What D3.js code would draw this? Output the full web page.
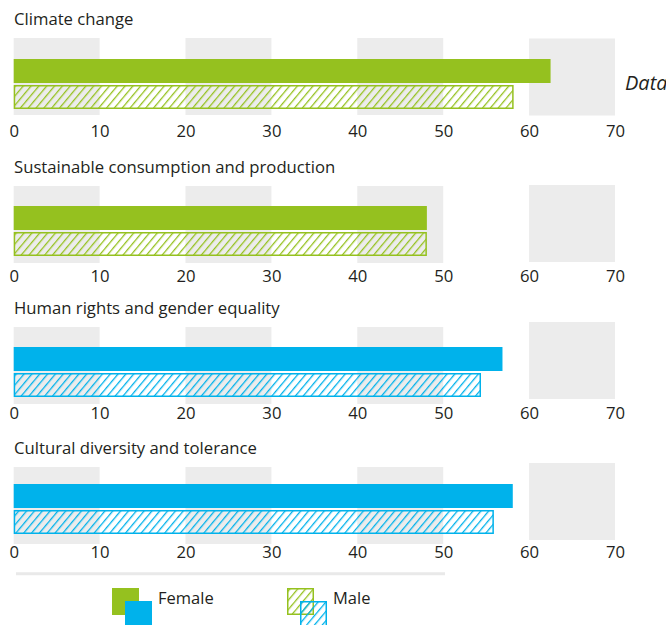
<!DOCTYPE html>
<html>
<head>
<meta charset="utf-8">
<script src="https://cdn.jsdelivr.net/npm/d3@7"></script>
<style>
  body { margin: 0; background: #fff; }
  svg { display: block; font-family: "Open Sans", sans-serif; }
</style>
</head>
<body>
<script>
// values (percent)
const topics = ['Climate change', 'Sustainable consumption and production', 'Human rights and gender equality', 'Cultural diversity and tolerance']
const themes = ['environment', 'environment', 'society', 'society']
const female = [62.5, 48.1, 56.9, 58.1]
const male = [58.2, 48.1, 54.4, 55.9]
const tickValues = [0, 10, 20, 30, 40, 50, 60, 70]
const bands = [[0, 10], [20, 30], [40, 50], [60, 70]]
const legendLabels = ['Female', 'Male']

const w = 666
const h = 625
const themeColor = { environment: '#95c11f', society: '#00b2eb' }
const ink = '#231f20'

// per panel layout (band top, bar offset, tick baseline offset, shift of last band)
const panelTop = [38, 186, 327, 467]
const barOff = [21, 20, 20, 17]
const tickOff = [99, 96, 92, 91]
const lastShift = [0.5, -1, -5, -4]
const bandH = 77
const barH = 24

const svg = d3.select('body')
  .append('svg')
  .attr('width', w)
  .attr('height', h)

const x = d3.scaleLinear()
  .domain([0, 70])
  .range([13.7, 615])

// hatch patterns
const defs = svg.append('defs')
Object.keys(themeColor).forEach(k => {
  const p = defs.append('pattern')
    .attr('id', 'hatch-' + k)
    .attr('patternUnits', 'userSpaceOnUse')
    .attr('width', 6)
    .attr('height', 6)
    .attr('patternTransform', 'rotate(40)')
  p.append('line')
    .attr('x1', 0).attr('y1', 0)
    .attr('x2', 0).attr('y2', 6)
    .attr('stroke', themeColor[k])
    .attr('stroke-width', 2.6)
})

topics.forEach((t, i) => {
  const g = svg.append('g').attr('transform', `translate(0, ${panelTop[i]})`)
  const col = themeColor[themes[i]]

  g.selectAll('rect.band')
    .data(bands)
    .enter()
    .append('rect')
    .attr('class', 'band')
    .attr('x', d => x(d[0]))
    .attr('width', d => x(d[1]) - x(d[0]))
    .attr('y', (d, j) => j === bands.length - 1 ? lastShift[i] : 0)
    .attr('height', bandH)
    .attr('fill', '#ececec')

  g.append('text')
    .attr('x', 14)
    .attr('y', -13.5)
    .attr('font-size', 16.7)
    .attr('fill', ink)
    .text(t)

  g.append('rect')
    .attr('x', x(0))
    .attr('y', barOff[i])
    .attr('width', x(female[i]) - x(0))
    .attr('height', barH)
    .attr('fill', col)

  g.append('rect')
    .attr('x', x(0) + 0.75)
    .attr('y', barOff[i] + barH + 2.75)
    .attr('width', x(male[i]) - x(0) - 1.5)
    .attr('height', barH - 1.5)
    .attr('fill', `url(#hatch-${themes[i]})`)
    .attr('stroke', col)
    .attr('stroke-width', 1.5)

  const axis = d3.axisBottom(x)
    .tickValues(tickValues)
    .tickSize(0)
    .tickPadding(0)
  const ax = g.append('g')
    .attr('transform', `translate(0, ${tickOff[i] - 12})`)
    .call(axis)
  ax.select('.domain').remove()
  ax.selectAll('text')
    .attr('font-size', 16.7)
    .attr('font-family', '"Open Sans", sans-serif')
    .attr('fill', ink)
    .attr('dy', 12)
})

svg.append('text')
  .attr('x', 625)
  .attr('y', 90)
  .attr('font-size', 20)
  .attr('font-style', 'italic')
  .attr('fill', ink)
  .text('Data')

svg.append('line')
  .attr('x1', 16).attr('x2', 445)
  .attr('y1', 573.8).attr('y2', 573.8)
  .attr('stroke', '#e9e9e9')
  .attr('stroke-width', 3)

// legend
const legX = [112, 287]
const lg = svg.append('g')
legendLabels.forEach((lab, i) => {
  ['environment', 'society'].forEach((k, j) => {
    const r = lg.append('rect')
      .attr('x', legX[i] + j * 13)
      .attr('y', 588 + j * 13)
      .attr('width', 27)
      .attr('height', 27)
    if (i === 0) {
      r.attr('fill', themeColor[k])
    } else {
      r.attr('x', legX[i] + j * 13 + 0.75)
        .attr('y', 588 + j * 13 + 0.75)
        .attr('width', 25.5)
        .attr('height', 25.5)
        .attr('fill', `url(#hatch-${k})`)
        .attr('stroke', themeColor[k])
        .attr('stroke-width', 1.5)
    }
  })
  lg.append('text')
    .attr('x', legX[i] + 46)
    .attr('y', 604)
    .attr('font-size', 16.5)
    .attr('fill', ink)
    .text(lab)
})
</script>
</body>
</html>
